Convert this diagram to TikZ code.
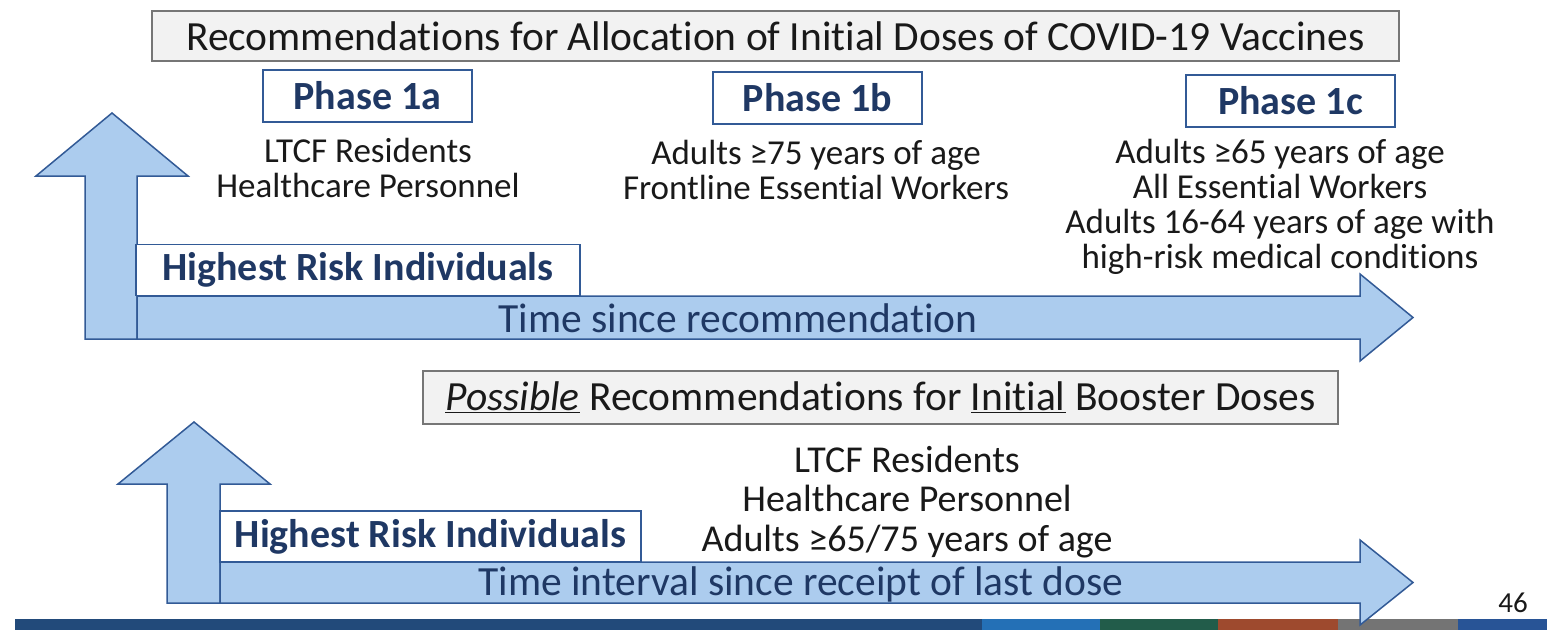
\documentclass[tikz,border=0pt]{standalone}
\usepackage{fontspec}
\setmainfont{Carlito}[Ligatures=NoCommon]
\usepackage{tikz}
\usetikzlibrary{positioning}

\definecolor{arrowfill}{RGB}{172,204,238}
\definecolor{arrowline}{RGB}{50,90,150}
\definecolor{navy}{RGB}{31,56,100}
\definecolor{boxgray}{RGB}{242,242,242}
\definecolor{boxline}{RGB}{118,118,118}
\definecolor{bodytext}{RGB}{25,25,25}
\definecolor{banddark}{RGB}{34,74,122}
\definecolor{bandblue}{RGB}{36,112,182}
\definecolor{bandgreen}{RGB}{34,92,74}
\definecolor{bandrust}{RGB}{158,74,46}
\definecolor{bandgray}{RGB}{116,116,116}
\definecolor{bandnavy}{RGB}{40,84,150}

\begin{document}
\begin{tikzpicture}[x=1pt, y=-1pt,
	titlebox/.style={draw=boxline, fill=boxgray, line width=1.5pt, inner sep=0pt, text=bodytext, font=\fontsize{41.5}{41.5}\selectfont},
	phasebox/.style={draw=arrowline, fill=white, line width=1.5pt, minimum width=209pt, minimum height=52pt, inner sep=0pt, text=navy, font=\fontsize{40}{40}\selectfont\bfseries},
	riskbox/.style={draw=arrowline, fill=white, line width=1.5pt, minimum height=51pt, inner sep=0pt, text=navy, font=\fontsize{40}{40}\selectfont\bfseries},
	grouplist/.style={align=center, inner sep=0pt, text=bodytext, font=\fontsize{35}{35}\selectfont},
	blockarrow/.style={draw=arrowline, fill=arrowfill, line width=1.5pt, line join=miter},
	timelabel/.style={inner sep=0pt, text=navy, font=\fontsize{41.5}{41.5}\selectfont}]
	
	\useasboundingbox (0,0) rectangle (1547,630);
	
	% Footer band
	\fill[banddark] (15,619) rectangle (982,630);
	\fill[bandblue] (982,619) rectangle (1100,630);
	\fill[bandgreen] (1100,619) rectangle (1218,630);
	\fill[bandrust] (1218,619) rectangle (1338,630);
	\fill[bandgray] (1338,619) rectangle (1458,630);
	\fill[bandnavy] (1458,619) rectangle (1547,630);
	
	% Initial doses
	\node[titlebox, minimum width=1247pt, minimum height=50pt] (title) at (775.5, 36) {Recommendations for Allocation of Initial Doses of COVID-19 Vaccines};
	
	\draw[blockarrow] (85,339) -- (85,176) -- (36,176) -- (112,113) -- (188,176) -- (137,176) -- (137,339) -- cycle;
	\draw[blockarrow] (137,296) -- (1360,296) -- (1360,274) -- (1413,317.5) -- (1360,361) -- (1360,339) -- (137,339) -- cycle;
	
	\node[phasebox] (phaseA) at (367.5, 96) {Phase 1a};
	\node[phasebox] (phaseB) at (817.5, 98) {Phase 1b};
	\node[phasebox] (phaseC) at (1290.5, 101) {Phase 1c};
	
	\node[grouplist] (groupsA) at (368, 167.5) {LTCF Residents\\Healthcare Personnel};
	\node[grouplist] (groupsB) at (816, 170) {Adults ≥75 years of age\\Frontline Essential Workers};
	\node[grouplist] (groupsC) at (1280, 206.5) {Adults ≥65 years of age\\All Essential Workers\\Adults 16-64 years of age with\\high-risk medical conditions};
	
	\node[riskbox, minimum width=444pt] (riskTop) at (358, 270) {Highest Risk Individuals};
	\node[timelabel] (timeTop) at (738, 318) {Time since recommendation};
	
	% Booster doses
	\node[titlebox, minimum width=915pt, minimum height=53pt] (booster) at (880.5, 397.5) {\underline{\textit{Possible}} Recommendations for \underline{Initial} Booster Doses};
	
	\draw[blockarrow] (167,603) -- (167,484) -- (118,484) -- (194,422) -- (270,484) -- (220,484) -- (220,603) -- cycle;
	\draw[blockarrow] (220,562) -- (1360,562) -- (1360,540) -- (1413,582.5) -- (1360,625) -- (1360,603) -- (220,603) -- cycle;
	
	\node[riskbox, minimum width=421pt] (riskLow) at (430.5, 536.5) {Highest Risk Individuals};
	\node[grouplist, font=\fontsize{38}{39.5}\selectfont] (groupsLow) at (907, 502) {LTCF Residents\\Healthcare Personnel\\Adults ≥65/75 years of age};
	\node[timelabel] (timeLow) at (801, 584) {Time interval since receipt of last dose};
	
	\node[text=bodytext, font=\fontsize{29}{29}\selectfont] (pagenum) at (1513, 603) {46};
	
\end{tikzpicture}
\end{document}
